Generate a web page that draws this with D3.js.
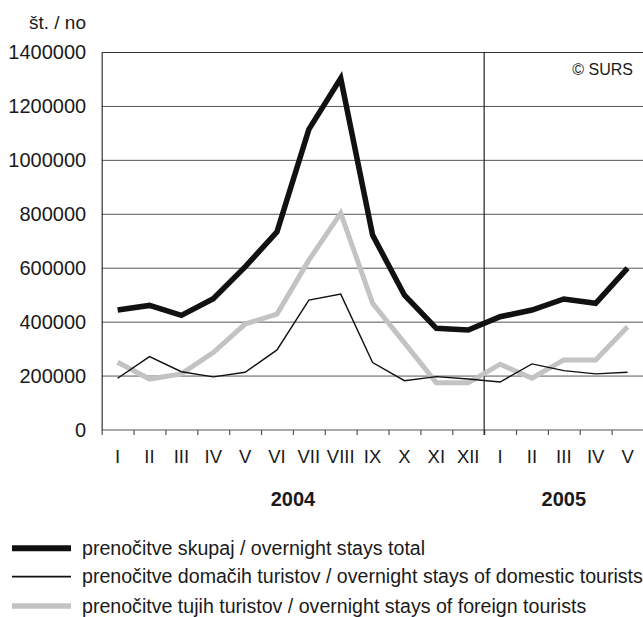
<!DOCTYPE html>
<html>
<head>
<meta charset="utf-8">
<script src="https://cdn.jsdelivr.net/npm/d3@7"></script>
<style>
html,body{margin:0;padding:0;background:#fff;}
svg{display:block;font-family:"Liberation Sans",Arial,sans-serif;}
</style>
</head>
<body>
<svg id="chart" width="643" height="617"></svg>
<script>
const months = ["I","II","III","IV","V","VI","VII","VIII","IX","X","XI","XII","I","II","III","IV","V"];
const years = ["2004","2005"];
const yearSpans = [[0,11],[12,16]];
const yTicks = [0,200000,400000,600000,800000,1000000,1200000,1400000];
const total = [445000,462000,425000,487000,605000,735000,1115000,1304000,723000,500000,377000,371000,420000,445000,486000,470000,600000];
const domestic = [192000,272000,216000,197000,214000,297000,482000,504000,250000,183000,198000,189000,178000,245000,220000,208000,214000];
const foreign = [251000,189000,208000,287000,393000,430000,630000,804000,470000,323000,175000,175000,244000,192000,260000,260000,383000];
const seriesNames = [
  "prenočitve skupaj / overnight stays total",
  "prenočitve domačih turistov / overnight stays of domestic tourists",
  "prenočitve tujih turistov / overnight stays of foreign tourists"
];

const svg = d3.select("#chart");
const L = 101.7, R = 643.5, T = 52.5, B = 430;
const idx = d3.range(months.length);
const x = d3.scaleBand().domain(idx).range([L, R]).padding(0);
const y = d3.scaleLinear().domain([0,1400000]).range([B, T]);
const cx = i => x(i) + x.bandwidth()/2;

// gridlines
svg.append("g").selectAll("line").data(yTicks.filter(d => d > 0 && d < 1400000)).join("line")
  .attr("x1", L).attr("x2", R).attr("y1", d => y(d)).attr("y2", d => y(d))
  .attr("stroke", "#555").attr("stroke-width", 1);
// top border
svg.append("line").attr("x1", L).attr("x2", R).attr("y1", y(1400000)).attr("y2", y(1400000))
  .attr("stroke", "#333").attr("stroke-width", 1.2);

// y axis
const yAxis = d3.axisLeft(y).tickValues(yTicks).tickSize(0).tickPadding(15.5).tickFormat(d3.format("d"));
const gy = svg.append("g").attr("transform", `translate(${L},0)`).call(yAxis);
gy.select(".domain").attr("stroke", "#333").attr("stroke-width", 1.2);
gy.selectAll("text").attr("font-size", 20).attr("fill", "#1a1a1a").attr("font-family", "Liberation Sans, Arial, sans-serif");

// x axis (ticks at band boundaries)
const xb = d3.scaleLinear().domain([0, months.length]).range([L, R]);
const gx = svg.append("g").attr("transform", `translate(0,${B})`)
  .call(d3.axisBottom(xb).tickValues(d3.range(0, months.length)).tickSize(5).tickFormat(""));
gx.select(".domain").attr("stroke", "#555").attr("stroke-width", 1.2).attr("d", `M${L},0H${R}`);
gx.selectAll(".tick line").attr("stroke", "#555").attr("stroke-width", 1.2);

// month labels
svg.append("g").selectAll("text").data(idx).join("text")
  .attr("x", i => cx(i)).attr("y", 463).attr("text-anchor", "middle")
  .attr("font-size", 18.5).attr("fill", "#1a1a1a").text(i => months[i]);

// year labels
svg.append("g").selectAll("text").data(years).join("text")
  .attr("x", (d, k) => (cx(yearSpans[k][0]) + cx(yearSpans[k][1]))/2).attr("y", 506)
  .attr("text-anchor", "middle").attr("font-size", 20).attr("font-weight", "bold")
  .attr("fill", "#1a1a1a").text(d => d);

// separator between years
svg.append("line").attr("x1", x(12)).attr("x2", x(12)).attr("y1", T).attr("y2", B + 5)
  .attr("stroke", "#222").attr("stroke-width", 1.2);

// unit label
svg.append("text").attr("x", 86).attr("y", 29).attr("text-anchor", "end")
  .attr("font-size", 19).attr("fill", "#1a1a1a").text("št. / no");

// copyright
svg.append("text").attr("x", 633).attr("y", 75).attr("text-anchor", "end")
  .attr("font-size", 16).attr("fill", "#1a1a1a").text("© SURS");

// lines
const line = d3.line().x((d, i) => cx(i)).y(d => y(d));
const styles = [
  {data: total, color: "#111", w: 5.5},
  {data: domestic, color: "#111", w: 1.4},
  {data: foreign, color: "#c3c3c3", w: 5}
];
[2, 1, 0].forEach(k => {
  svg.append("path").datum(styles[k].data).attr("d", line)
    .attr("fill", "none").attr("stroke", styles[k].color).attr("stroke-width", styles[k].w)
    .attr("stroke-linejoin", "miter");
});

// legend
const legY = [548.3, 576.7, 606];
const lg = svg.append("g");
styles.forEach((s, k) => {
  lg.append("line").attr("x1", 12).attr("x2", 71).attr("y1", legY[k]).attr("y2", legY[k])
    .attr("stroke", s.color).attr("stroke-width", k === 1 ? 1.8 : s.w + 0.5);
  lg.append("text").attr("x", 82).attr("y", legY[k] + 6.5).attr("font-size", 19.6)
    .attr("fill", "#1a1a1a").text(seriesNames[k]);
});
</script>
</body>
</html>
